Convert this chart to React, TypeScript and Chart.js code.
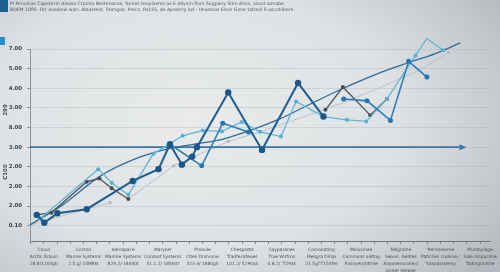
import { useEffect, useRef } from "react";
import { Chart, registerables } from "chart.js";

Chart.register(...registerables);

// Category labels (multi-line) along the x axis
const categories: string[][] = [
  ["Cloud", "Arctic Brauin", "28.8/1203gb"],
  ["Corsail", "Marine Systems", "2.5.g/ 14M8ts"],
  ["Aerospace", "Marline Systems", "829.2/ 18440t"],
  ["Maryker", "Combat Systems", "51.1.2/ 18560t"],
  ["Probule", "Ozek Drohome", "323.3/ 1880gh"],
  ["Chespaste", "Tradfecafeues", "101.2/ 5290as"],
  ["Sayparanes", "True Wirtros", "0.8.2/ 'T29as"],
  ["Comonating", "Mesgra Dimp", "21.5g/'T150fer"],
  ["Molucinee", "Commons oldtng", "Evsoyerytdtnle"],
  ["Tellgraine", "Sepon, Gelltes", "Anposerocoliect", "Under Verpier"],
  ["'Rershearme", "Patlches cudone /", "'Saspalnaemy"],
  ["Mursbylage", "Sale Inspachne", "Tadingrantne"],
];

// Y tick labels, bottom to top
const yTickLabels = ["0.10", "2.00", "2.00", "2.00", "3.00", "8.00", "3.00", "4.00", "5.00", "7.00"];

// Primary series (dark blue)
const primaryX = [-0.18, 0.01, 0.34, 1.08, 2.24, 2.89, 3.18, 3.48, 3.74, 3.86, 4.65, 5.5, 6.41, 7.05];
const primaryY = [0.55, 0.15, 0.63, 0.84, 2.28, 2.88, 4.15, 3.11, 3.52, 4.0, 6.79, 3.86, 7.27, 5.56];

// Secondary series (medium blue)
const secondaryX = [3.18, 3.98, 4.51, 5.16, 6.0, 7.56, 8.15, 8.74, 9.2, 9.66];
const secondaryY = [4.15, 3.05, 5.22, 4.77, null, 6.45, 6.36, 5.36, 8.37, 7.57];

// Light blue series
const lightX = [-0.08, 1.37, 1.71, 2.13, 2.76, 3.5, 4.01, 4.49, 4.99, 5.45, 5.98, 6.36, 7.05, 7.64, 8.13, 8.65, 9.37, 9.66, 10.07];
const lightY = [0.38, 2.88, 2.19, 1.57, 3.66, 4.58, 4.85, 4.8, 5.28, 4.78, 4.54, 6.33, 5.56, 5.39, 5.31, 6.45, 8.67, 9.53, 8.93];

// Dark gray series
const grayX = [-0.18, 0.19, 1.08, 1.4, 1.71, 2.13, 4.5, 7.1, 7.54, 8.23, 8.65];
const grayY = [0.55, 0.66, 2.24, 2.4, 1.91, 1.36, null, 5.9, 7.06, 5.63, 6.45];

// Light gray trend
const trendX = [-0.35, 1.67, 1.9, 2.13, 3.27, 4.65, 5.53, 6.46, 7.47, 8.48, 9.49, 10.21];
const trendY = [0.04, 1.17, null, 1.36, 3.05, 4.29, 4.83, 5.49, 6.21, 7.03, 7.94, 8.83];

// Smooth fitted curve
const curveX = [-0.35, 0.5, 1.4, 2.3, 3.1, 3.8, 4.5, 5.2, 5.96, 6.72, 7.55, 8.36, 9.19, 9.87, 10.5];
const curveY = [0.04, 1.1, 2.5, 3.4, 3.9, 4.15, 4.4, 4.85, 5.45, 6.2, 7.0, 7.7, 8.3, 8.76, 9.31];

// Horizontal reference level
const refX = [-0.35, 10.53];
const refY = [4, 4];

const zip = (xs: number[], ys: (number | null)[]) => xs.map((x, i) => ({ x, y: ys[i] }));

const arrowPlugin = {
  id: "refArrow",
  afterDatasetsDraw(chart: any) {
    const idx = chart.data.datasets.findIndex((d: any) => d.label === "Reference");
    if (idx < 0) return;
    const pts = chart.getDatasetMeta(idx).data;
    const last = pts[pts.length - 1];
    if (!last) return;
    const ctx = chart.ctx;
    ctx.save();
    ctx.fillStyle = "#3a76a6";
    ctx.beginPath();
    ctx.moveTo(last.x + 5, last.y);
    ctx.lineTo(last.x - 2, last.y - 3);
    ctx.lineTo(last.x - 2, last.y + 3);
    ctx.closePath();
    ctx.fill();
    ctx.restore();
  },
};

export default function App() {
  const ref = useRef<HTMLCanvasElement | null>(null);

  useEffect(() => {
    document.body.style.margin = "0";
    if (!ref.current) return;
    const common = { clip: false as const, spanGaps: false, tension: 0 };
    const chart = new Chart(ref.current, {
      type: "line",
      data: {
        datasets: [
          {
            ...common,
            label: "Trend",
            data: zip(trendX, trendY),
            borderColor: "#bcc2c7",
            borderWidth: 1,
            pointRadius: [0, 1.6, 0, 0, 1.6, 1.6, 0, 0, 0, 0, 0, 1.6],
            pointBackgroundColor: "#b3b9be",
            pointBorderWidth: 0,
            order: 7,
          },
          {
            ...common,
            label: "Reference",
            data: zip(refX, refY),
            borderColor: "#3a76a6",
            borderWidth: 1.6,
            pointRadius: 0,
            order: 6,
          },
          {
            ...common,
            label: "Curve",
            data: zip(curveX, curveY),
            borderColor: "#2e6b9c",
            borderWidth: 1.3,
            tension: 0.4,
            cubicInterpolationMode: "monotone",
            pointRadius: curveX.map((_, i) => (i === curveX.length - 1 ? 2.4 : 0)),
            pointBackgroundColor: "#1f5a8a",
            pointBorderWidth: 0,
            order: 5,
          },
          {
            ...common,
            label: "Gray",
            data: zip(grayX, grayY),
            borderColor: "#4d535a",
            borderWidth: 1.3,
            pointRadius: 2,
            pointBackgroundColor: "#454b52",
            pointBorderWidth: 0,
            order: 4,
          },
          {
            ...common,
            label: "Light",
            data: zip(lightX, lightY),
            borderColor: "#62b6d8",
            borderWidth: 1.3,
            pointRadius: 2,
            pointBackgroundColor: "#55afd4",
            pointBorderWidth: 0,
            order: 3,
          },
          {
            ...common,
            label: "Secondary",
            data: zip(secondaryX, secondaryY),
            borderColor: "#2b7db6",
            borderWidth: 1.6,
            pointRadius: 2.5,
            pointBackgroundColor: "#2576b0",
            pointBorderWidth: 0,
            order: 2,
          },
          {
            ...common,
            label: "Primary",
            data: zip(primaryX, primaryY),
            borderColor: "#1d5d90",
            borderWidth: 2,
            pointRadius: 3.2,
            pointBackgroundColor: "#1b5689",
            pointBorderWidth: 0,
            order: 1,
          },
        ],
      },
      options: {
        animation: false,
        responsive: false,
        layout: { padding: { top: 49, right: 10, left: 0, bottom: 0 } },
        plugins: { legend: { display: false }, tooltip: { enabled: false } },
        scales: {
          x: {
            type: "linear",
            min: -0.35,
            max: 11.25,
            afterBuildTicks: (s: any) => {
              const t = [];
              for (let k = -1; k <= 33; k++) t.push({ value: k / 3 });
              s.ticks = t;
            },
            afterFit: (s: any) => {
              s.height = 31;
            },
            ticks: {
              autoSkip: false,
              maxRotation: 0,
              minRotation: 0,
              padding: 3,
              color: "#4a5056",
              font: { family: "DejaVu Sans", size: 4.4, lineHeight: 1.52 },
              callback: (v: any) => {
                const r = Math.round(v);
                if (Math.abs(v - r) > 1e-6 || r < 0 || r >= categories.length) return "";
                return categories[r];
              },
            },
            grid: { drawOnChartArea: false, tickLength: 3, tickColor: "#7d8388" },
            border: { color: "#6f757a", width: 1 },
          },
          y: {
            type: "linear",
            min: -0.78,
            max: 9,
            afterBuildTicks: (s: any) => {
              s.ticks = yTickLabels.map((_, i) => ({ value: i }));
            },
            afterFit: (s: any) => {
              s.width = 30;
            },
            ticks: {
              padding: 5,
              color: "#3d4247",
              font: { family: "DejaVu Sans", size: 5.4, weight: "bold" },
              callback: (v: any) => yTickLabels[Math.round(v)] ?? "",
            },
            grid: { color: "rgba(125,135,142,0.2)", tickColor: "#8c9398", tickLength: 3 },
            border: { color: "#8c9398", width: 1 },
          },
        },
      } as any,
      plugins: [arrowPlugin],
    });
    return () => chart.destroy();
  }, []);

  const hdr: React.CSSProperties = {
    position: "absolute",
    left: 10,
    fontFamily: "DejaVu Sans",
    fontSize: 4.6,
    color: "#50565c",
    whiteSpace: "nowrap",
    lineHeight: "6px",
  };
  const yt: React.CSSProperties = {
    position: "absolute",
    fontFamily: "DejaVu Sans",
    fontSize: 5.5,
    fontWeight: "bold",
    color: "#474d53",
    transform: "translate(-50%,-50%) rotate(-90deg)",
    whiteSpace: "nowrap",
  };

  return (
    <div
      style={{
        position: "fixed",
        left: 0,
        top: 0,
        width: 500,
        height: 272,
        overflow: "hidden",
        background:
          "radial-gradient(ellipse 75% 85% at 38% 45%, #e8eaeb 0%, #dfe2e4 55%, #c4c9cd 85%, #b3b9be 100%)",
      }}
    >
      <div style={{ position: "absolute", left: 0, top: 0, width: 8, height: 12, background: "#1f5f8f" }} />
      <div style={{ position: "absolute", left: 0, top: 37, width: 5, height: 8, background: "#2a8fc4" }} />
      <div style={{ ...hdr, top: 1 }}>
        Pl Penulsus Capeterm Alsosa Crpona Bestenaces, Yomes teoplasms as E Allyoin flom Sugpany Slirn Alsol, aiocd aonabe
      </div>
      <div style={{ ...hdr, top: 7 }}>
        BDEM 1095. Orr eusolow wan: Albasteot. Stongoe, Precz, Pa155, As Aysserry bd - Unaotear Elsor Gone tafreol S.uscohibers.
      </div>
      <div style={{ ...yt, left: 5, top: 110 }}>299</div>
      <div style={{ ...yt, left: 5, top: 172 }}>C100</div>
      <canvas ref={ref} width={500} height={272} style={{ position: "absolute", left: 0, top: 0 }} />
    </div>
  );
}
